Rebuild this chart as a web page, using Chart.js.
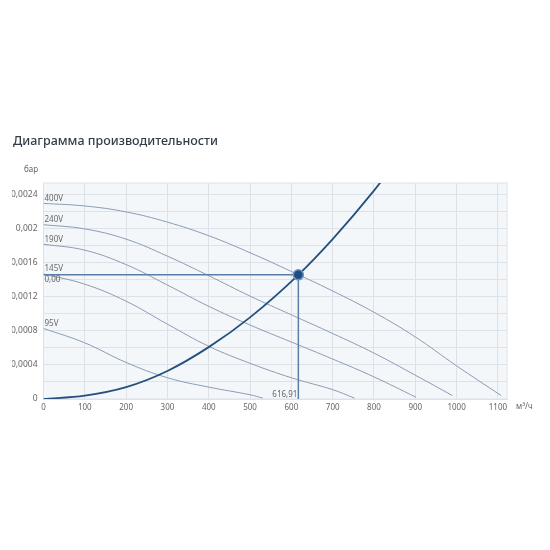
<!DOCTYPE html>
<html>
<head>
<meta charset="utf-8">
<script src="https://cdn.jsdelivr.net/npm/chart.js@4.4.1/dist/chart.umd.min.js"></script>
<style>
body{margin:0;background:#fff;}
#wrap{position:relative;width:550px;height:550px;}
#perf{position:absolute;left:12px;top:0;}
#title{position:absolute;left:13px;top:132px;font:500 12.5px "Noto Sans";color:#333d48;white-space:nowrap;}
</style>
</head>
<body>
<div id="wrap">
<canvas id="perf" width="538" height="550"></canvas>
<div id="title">Диаграмма производительности</div>
</div>
<script>
// fan curves (flow m3/h, pressure bar)
const flow400 = [0, 100, 200, 300, 400, 500, 600, 700, 800, 900, 1000, 1108];
const head400 = [0.00230, 0.00227, 0.00220, 0.00208, 0.00192, 0.00172, 0.00150, 0.00127, 0.00102, 0.00073, 0.00039, 0.00004];
const flow240 = [0, 100, 200, 300, 400, 500, 600, 700, 800, 900, 990];
const head240 = [0.00205, 0.00200, 0.00188, 0.00168, 0.00145, 0.00121, 0.00099, 0.00077, 0.00054, 0.00028, 0.00004];
const flow190 = [0, 100, 200, 300, 400, 500, 600, 700, 800, 902];
const head190 = [0.00182, 0.00175, 0.00158, 0.00134, 0.00109, 0.00087, 0.00067, 0.00047, 0.00026, 0.00002];
const flow145 = [0, 100, 200, 300, 400, 500, 600, 700, 753];
const head145 = [0.00147, 0.00135, 0.00115, 0.00088, 0.00062, 0.00042, 0.00025, 0.00011, 0.00001];
const flow95 = [0, 100, 200, 300, 400, 500, 531];
const head95 = [0.00083, 0.00066, 0.00043, 0.00025, 0.00014, 0.00005, 0.00001];
const curveNames = ['400V', '240V', '190V', '145V', '95V'];

// system curve
const sysFlow = [0, 100, 200, 300, 400, 500, 616.91, 700, 800, 830];
const sysHead = [0, 0.00004, 0.00014, 0.00033, 0.00061, 0.00096, 0.00146, 0.00188, 0.00245, 0.00264];

// working point
const workFlow = 616.91;
const workHead = 0.00146;
const workFlowText = '616,91';
const workHeadText = '0,00';

const xTicks = [0, 100, 200, 300, 400, 500, 600, 700, 800, 900, 1000, 1100];

const toPts = (xs, ys) => xs.map((x, i) => ({x: x, y: ys[i]}));

const thin = '#8a9cb5';
const fanSets = [
  [flow400, head400], [flow240, head240], [flow190, head190], [flow145, head145], [flow95, head95]
].map((c, i) => ({
  label: curveNames[i],
  data: toPts(c[0], c[1]),
  borderColor: thin,
  borderWidth: 1,
  pointRadius: 0,
  tension: 0.4,
  order: 5
}));

const extras = {
  id: 'extras',
  beforeDraw(chart) {
    const {ctx, chartArea: a} = chart;
    ctx.save();
    ctx.fillStyle = '#f4f7fa';
    ctx.fillRect(a.left, a.top, a.right - a.left, a.bottom - a.top);
    ctx.strokeStyle = '#dde2e8';
    ctx.lineWidth = 1;
    ctx.strokeRect(a.left, a.top, a.right - a.left, a.bottom - a.top);
    ctx.restore();
  },
  afterDraw(chart) {
    const {ctx, chartArea: a, scales} = chart;
    const xs = scales.x, ys = scales.y;
    ctx.save();
    ctx.font = '8px "Noto Sans"';
    ctx.fillStyle = '#666';
    ctx.textBaseline = 'middle';
    ctx.textAlign = 'left';
    fanSets.forEach(ds => {
      ctx.fillText(ds.label, xs.getPixelForValue(0) + 1, ys.getPixelForValue(ds.data[0].y) - 5);
    });
    ctx.fillText(workHeadText, xs.getPixelForValue(0) + 1, ys.getPixelForValue(workHead) + 4.5);
    ctx.textAlign = 'right';
    ctx.fillText(workFlowText, xs.getPixelForValue(workFlow) - 1, ys.getPixelForValue(0) - 4.5);
    ctx.textAlign = 'left';
    ctx.fillText('бар', a.left - 19.5, a.top - 13);
    ctx.fillText('м³/ч', a.right + 9, a.bottom + 8);
    ctx.restore();
  }
};

new Chart(document.getElementById('perf'), {
  type: 'line',
  data: {
    datasets: fanSets.concat([
      {
        data: toPts([0, workFlow], [workHead, workHead]),
        borderColor: '#5b7ea8', borderWidth: 1.5, pointRadius: 0, order: 3
      },
      {
        data: toPts([workFlow, workFlow], [workHead, 0]),
        borderColor: '#5b7ea8', borderWidth: 1.5, pointRadius: 0, order: 3
      },
      {
        data: toPts(sysFlow, sysHead),
        borderColor: '#24507e', borderWidth: 1.8, pointRadius: 0,
        cubicInterpolationMode: 'monotone', order: 2
      },
      {
        data: toPts([workFlow], [workHead]),
        showLine: false, pointRadius: 5, pointBackgroundColor: '#1f4d80',
        pointBorderColor: '#6a93c4', pointBorderWidth: 1.5, order: 1
      }
    ])
  },
  options: {
    responsive: false,
    animation: false,
    layout: {padding: {top: 183, right: 43, left: 0, bottom: 0}},
    plugins: {legend: {display: false}, tooltip: {enabled: false}},
    scales: {
      x: {
        type: 'linear',
        min: 0,
        max: 1122,
        afterFit: s => { s.height = 151; },
        afterBuildTicks: s => { s.ticks = xTicks.map(v => ({value: v})); },
        grid: {color: '#dde2e8', drawTicks: false},
        border: {color: '#dde2e8'},
        ticks: {
          padding: 4,
          maxRotation: 0,
          color: '#666',
          font: {family: 'Noto Sans', size: 8},
          callback: v => String(v)
        }
      },
      y: {
        min: 0,
        max: 0.00254,
        afterFit: s => { s.width = 31.5; },
        grid: {color: '#dde2e8', drawTicks: false},
        border: {color: '#dde2e8'},
        ticks: {
          stepSize: 0.0002,
          includeBounds: false,
          padding: 6,
          color: '#666',
          font: {family: 'Noto Sans', size: 8.5},
          callback: v => {
            const n = Math.round(v / 0.0002);
            if (n % 2) return '';
            return n === 0 ? '0' : String(parseFloat((n * 0.0002).toFixed(4))).replace('.', ',');
          }
        }
      }
    }
  },
  plugins: [extras]
});
</script>
</body>
</html>
